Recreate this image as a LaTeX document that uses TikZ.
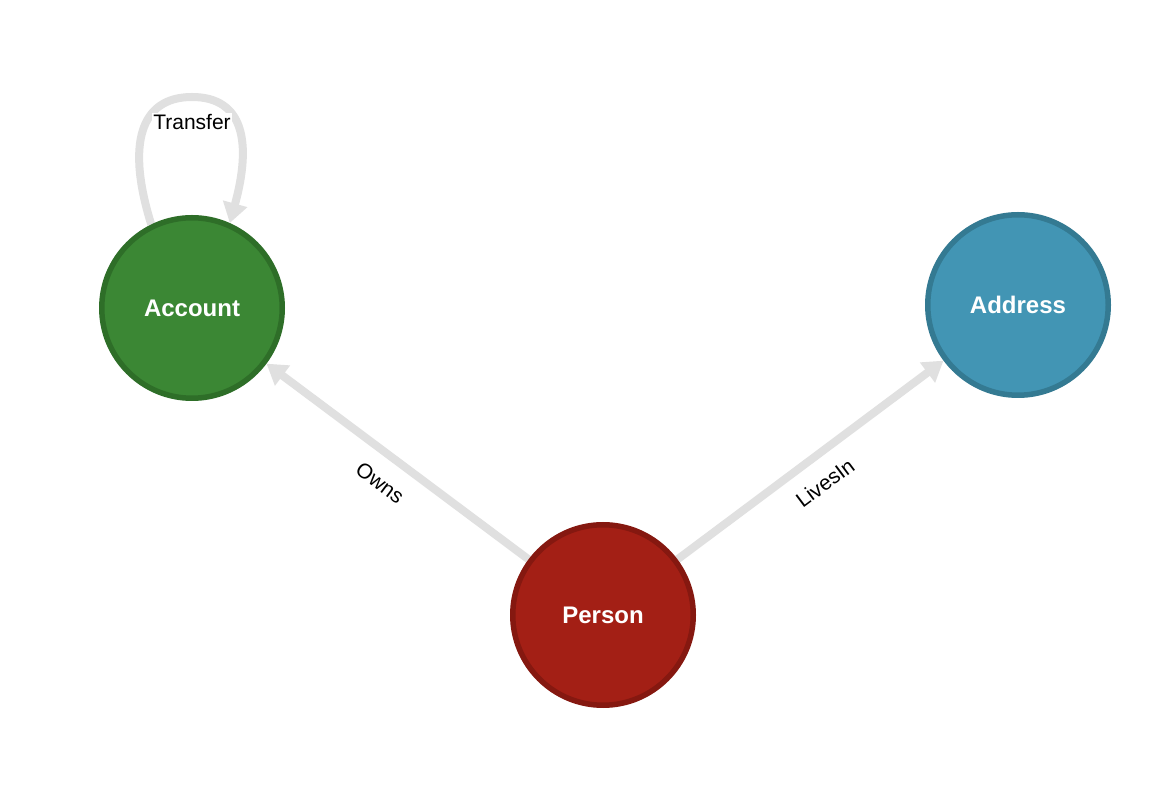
\documentclass[tikz,border=0pt]{standalone}
\usepackage{fontspec}
\setmainfont{Liberation Sans}
\usetikzlibrary{arrows.meta,backgrounds}
\definecolor{accfill}{RGB}{59,135,52}
\definecolor{accdraw}{RGB}{46,110,40}
\definecolor{adrfill}{RGB}{66,149,180}
\definecolor{adrdraw}{RGB}{52,122,146}
\definecolor{perfill}{RGB}{163,31,21}
\definecolor{perdraw}{RGB}{133,24,16}
\definecolor{edgegray}{RGB}{224,224,224}
\tikzset{
  entity/.style={circle, line width=5.5pt, minimum size=180.5pt, inner sep=0pt,
    text=white, font=\bfseries\fontsize{24}{24}\selectfont},
  rel/.style={draw=edgegray, line width=8pt, -{Triangle[length=20pt,width=24pt]}},
  rellabel/.style={font=\fontsize{21}{21}\selectfont, text=black, inner sep=1pt}
}
\begin{document}
\begin{tikzpicture}[x=1pt,y=1pt]
\useasboundingbox (0,0) rectangle (1170,806);
\node[entity, fill=accfill, draw=accdraw] (A) at (192,498) {Account};
\node[entity, fill=adrfill, draw=adrdraw] (D) at (1018,501) {Address};
\node[entity, fill=perfill, draw=perdraw] (P) at (603,191) {Person};
\coordinate (looptop) at (192,709);
\begin{scope}[on background layer]
\fill[white] (0,0) rectangle (1170,806);
\draw[rel] (P) -- (A);
\draw[rel] (P) -- (D);
\draw[rel] (A.116) .. controls +(-25,80) and +(-52,0) .. (looptop) .. controls +(52,0) and +(22,80) .. (A.66);
\end{scope}
\node[rellabel, rotate=-36.8] (lowns) at (380,323) {Owns};
\node[rellabel, rotate=36.8] (llives) at (825,323) {LivesIn};
\node[rellabel, fill=white] (ltransfer) at (192,684) {Transfer};
\end{tikzpicture}
\end{document}
